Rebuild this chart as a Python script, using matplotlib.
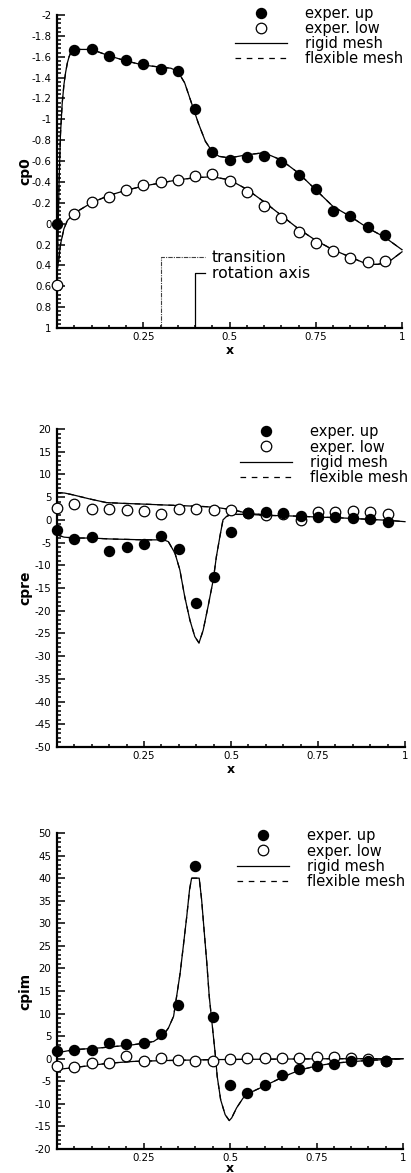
import matplotlib
matplotlib.use("Agg")
import matplotlib.pyplot as plt
from matplotlib.ticker import MultipleLocator, FormatStrFormatter

plt.rcParams['font.family'] = ['DejaVu Sans']

# experimental stations along the chord
x_exp = [0.0, 0.05, 0.1, 0.15, 0.2, 0.25, 0.3, 0.35, 0.4, 0.45,
         0.5, 0.55, 0.6, 0.65, 0.7, 0.75, 0.8, 0.85, 0.9, 0.95]

# ---- steady pressure cp0 ----
cp0_up = [0.0, -1.66, -1.67, -1.61, -1.57, -1.535, -1.48, -1.465, -1.10, -0.69,
          -0.61, -0.64, -0.65, -0.59, -0.47, -0.33, -0.125, -0.07, 0.035, 0.11]
cp0_low = [0.59, -0.09, -0.21, -0.26, -0.32, -0.37, -0.40, -0.415, -0.46, -0.475,
           -0.41, -0.30, -0.17, -0.05, 0.08, 0.19, 0.265, 0.33, 0.37, 0.355]

cp0_rigid_up_x = [0.0, 0.003, 0.006, 0.01, 0.015, 0.02, 0.025, 0.03, 0.035, 0.04,
                  0.05, 0.1, 0.15, 0.2, 0.25, 0.3, 0.33, 0.35, 0.37, 0.39, 0.41,
                  0.43, 0.45, 0.47, 0.5, 0.55, 0.6, 0.65, 0.7, 0.75, 0.8, 0.85,
                  0.9, 0.95, 1.0]
cp0_rigid_up = [0.45, 0.1, -0.4, -0.85, -1.15, -1.33, -1.45, -1.54, -1.6, -1.64,
                -1.67, -1.67, -1.61, -1.56, -1.52, -1.50, -1.49, -1.46, -1.35, -1.155, -0.96,
                -0.79, -0.69, -0.645, -0.63, -0.66, -0.68, -0.61, -0.485, -0.325, -0.165, -0.07,
                0.04, 0.13, 0.25]
cp0_rigid_low_x = [0.0, 0.005, 0.01, 0.02, 0.03, 0.05, 0.1, 0.15, 0.2, 0.25, 0.3,
                   0.35, 0.4, 0.45, 0.5, 0.55, 0.6, 0.65, 0.7, 0.75, 0.8, 0.85,
                   0.9, 0.93, 0.95, 0.97, 1.0]
cp0_rigid_low = [0.45, 0.35, 0.2, 0.05, -0.03, -0.1, -0.2, -0.27, -0.32, -0.36, -0.39,
                 -0.42, -0.44, -0.45, -0.42, -0.33, -0.21, -0.08, 0.05, 0.16, 0.25, 0.32,
                 0.39, 0.39, 0.375, 0.345, 0.27]

x_transition = 0.3
y_transition = 0.32
x_rotation = 0.4
y_rotation = 0.474
x_note = 0.43

# ---- real part cpre ----
cpre_up = [-2.2, -4.3, -3.7, -6.8, -5.9, -5.3, -3.5, -6.5, -18.2, -12.6,
           -2.6, 1.5, 1.8, 1.4, 0.9, 0.7, 0.6, 0.4, 0.15, -0.4]
cpre_low = [2.6, 3.5, 2.4, 2.4, 2.2, 2.0, 1.25, 2.35, 2.5, 2.2,
            2.2, 1.5, 1.1, 1.2, 0.0, 1.7, 1.7, 2.05, 1.7, 1.25]

cpre_rigid_up_x = [0.0, 0.02, 0.05, 0.1, 0.15, 0.2, 0.25, 0.3, 0.31, 0.32, 0.339,
                   0.353, 0.367, 0.382, 0.396, 0.408, 0.42, 0.434, 0.449, 0.458,
                   0.468, 0.477, 0.487, 0.5, 0.55, 0.6, 0.65, 0.7, 0.75, 0.8,
                   0.85, 0.9, 0.95, 1.0]
cpre_rigid_up = [-3.3, -3.8, -4.0, -4.0, -4.2, -4.3, -4.4, -4.4, -4.5, -4.8, -7.35,
                 -11.0, -16.9, -22.1, -25.7, -27.1, -24.3, -19.1, -13.2, -8.1,
                 -3.7, 0.0, 0.74, 1.2, 1.2, 1.0, 0.9, 0.8, 0.6, 0.5,
                 0.3, 0.1, -0.1, -0.4]
cpre_rigid_low_x = [0.0, 0.022, 0.046, 0.094, 0.142, 0.2, 0.238, 0.3, 0.334, 0.4,
                    0.43, 0.47, 0.506, 0.55, 0.6]
cpre_rigid_low = [6.0, 5.9, 5.5, 4.6, 3.8, 3.6, 3.5, 3.3, 3.2, 3.0,
                  2.9, 2.6, 2.2, 1.4, 1.1]

# ---- imaginary part cpim ----
cpim_up = [1.6, 2.0, 2.0, 3.4, 3.3, 3.5, 5.5, 11.8, 42.6, 9.2,
           -5.9, -7.6, -5.8, -3.5, -2.3, -1.7, -1.1, -0.6, -0.6, -0.6]
cpim_low = [-1.7, -1.9, -1.0, -1.0, 0.7, -0.6, 0.1, -0.2, -0.4, -0.4,
            -0.1, 0.1, 0.1, 0.2, 0.1, 0.3, 0.3, 0.15, -0.1, -0.4]

cpim_rigid_up_x = [0.0, 0.048, 0.125, 0.221, 0.279, 0.308, 0.322, 0.337, 0.356,
                   0.365, 0.375, 0.383, 0.389, 0.411, 0.418, 0.425, 0.433, 0.44,
                   0.448, 0.457, 0.463, 0.473, 0.486, 0.498, 0.505, 0.519, 0.538,
                   0.567, 0.606, 0.654, 0.702, 0.75, 0.798, 0.894, 1.0]
cpim_rigid_up = [1.3, 2.0, 2.4, 3.1, 3.8, 5.3, 6.8, 9.4, 19.0,
                 24.9, 31.5, 37.4, 40.0, 40.0, 35.2, 28.6, 21.2, 13.8,
                 7.9, 1.3, -3.9, -9.1, -12.4, -13.7, -13.1, -10.9, -8.7,
                 -7.2, -5.8, -4.0, -2.5, -1.6, -1.0, -0.4, 0.0]
cpim_rigid_low_x = [0.0, 0.077, 0.149, 0.221, 0.317, 0.452, 0.606, 0.8, 1.0]
cpim_rigid_low = [-2.4, -1.7, -1.0, -0.6, -0.4, -0.2, -0.1, 0.0, 0.0]

W, H = 411, 1173
fig = plt.figure(figsize=(W / 100, H / 100), dpi=100)


def px_axes(left, right, top, bottom):
    return fig.add_axes([left / W, 1 - bottom / H, (right - left) / W, (bottom - top) / H])


def style_axes(ax, ylabel, ymaj, ymin, xpad=1):
    for s in ['top', 'right']:
        ax.spines[s].set_visible(False)
    ax.spines['left'].set_linewidth(1.6)
    ax.spines['bottom'].set_linewidth(1.6)
    ax.set_xlim(0, 1)
    ax.set_xticks([0.25, 0.5, 0.75, 1.0])
    ax.set_xticklabels(['0.25', '0.5', '0.75', '1'])
    ax.xaxis.set_minor_locator(MultipleLocator(0.05))
    ax.yaxis.set_major_locator(MultipleLocator(ymaj))
    ax.yaxis.set_minor_locator(MultipleLocator(ymin))
    ax.yaxis.set_major_formatter(FormatStrFormatter('%g'))
    ax.tick_params(which='both', direction='in', labelsize=7.4, width=1.1)
    ax.tick_params(axis='y', which='major', length=5.5, pad=4)
    ax.tick_params(axis='y', which='minor', length=3.2)
    ax.tick_params(axis='x', which='major', length=4, pad=3)
    ax.tick_params(axis='x', which='minor', length=2.2)
    ax.set_xlabel('x', fontsize=9, fontweight='bold', labelpad=xpad)
    ax.set_ylabel(ylabel, fontsize=10, fontweight='bold')
    ax.yaxis.set_label_coords(-0.07, 0.5)


def draw_series(ax, up, low, rx_up, r_up, rx_low, r_low):
    l_up, = ax.plot(x_exp, up, 'o', color='black', ms=7.2, clip_on=False, zorder=4)
    l_low, = ax.plot(x_exp, low, 'o', mfc='white', mec='black', mew=0.9, ms=7.6,
                     clip_on=False, zorder=3)
    l_rig, = ax.plot(rx_up, r_up, '-', color='black', lw=0.9, clip_on=False, zorder=2)
    ax.plot(rx_low, r_low, '-', color='black', lw=0.9, clip_on=False, zorder=2)
    l_flex, = ax.plot(rx_up, r_up, color='black', lw=0.9, ls=(0, (4.5, 4.5)),
                      clip_on=False, zorder=2)
    ax.plot(rx_low, r_low, color='black', lw=0.9, ls=(0, (4.5, 4.5)),
            clip_on=False, zorder=2)
    return [l_up, l_low, l_rig, l_flex]


def add_legend(ax, handles, x0, y0):
    ax.legend(handles, ['exper. up', 'exper. low', 'rigid mesh', 'flexible mesh'],
              loc='upper left', bbox_to_anchor=(x0, y0), frameon=False,
              fontsize=10.5, handlelength=3.6, handletextpad=1.2,
              labelspacing=0.02, borderpad=0, borderaxespad=0, numpoints=1)


# steady pressure
ax1 = px_axes(57, 402, 15, 328)
h = draw_series(ax1, cp0_up, cp0_low, cp0_rigid_up_x, cp0_rigid_up,
                cp0_rigid_low_x, cp0_rigid_low)
ax1.set_ylim(1, -2)
style_axes(ax1, 'cp0', 0.2, 0.04)
add_legend(ax1, h, 0.515, 1.03)
ax1.plot([x_transition, x_transition, x_note], [1, y_transition, y_transition],
         color='0.25', lw=0.8, ls=(0, (4, 1, 1, 1)))
ax1.plot([x_rotation, x_rotation, x_note], [1, y_rotation, y_rotation],
         color='black', lw=0.9)
ax1.text(x_note + 0.018, y_transition, 'transition', fontsize=11.3,
         va='center', ha='left')
ax1.text(x_note + 0.018, y_rotation, 'rotation axis', fontsize=11.3,
         va='center', ha='left')

# real part
ax2 = px_axes(57, 405, 429, 747)
h = draw_series(ax2, cpre_up, cpre_low, cpre_rigid_up_x, cpre_rigid_up,
                cpre_rigid_low_x, cpre_rigid_low)
ax2.set_ylim(-50, 20)
style_axes(ax2, 'cpre', 5, 1)
add_legend(ax2, h, 0.525, 1.015)

# imaginary part
ax3 = px_axes(57, 403, 833, 1149)
h = draw_series(ax3, cpim_up, cpim_low, cpim_rigid_up_x, cpim_rigid_up,
                cpim_rigid_low_x, cpim_rigid_low)
ax3.set_ylim(-20, 50)
style_axes(ax3, 'cpim', 5, 1, xpad=-1)
add_legend(ax3, h, 0.52, 1.015)

fig.savefig('out.png', dpi=100)
